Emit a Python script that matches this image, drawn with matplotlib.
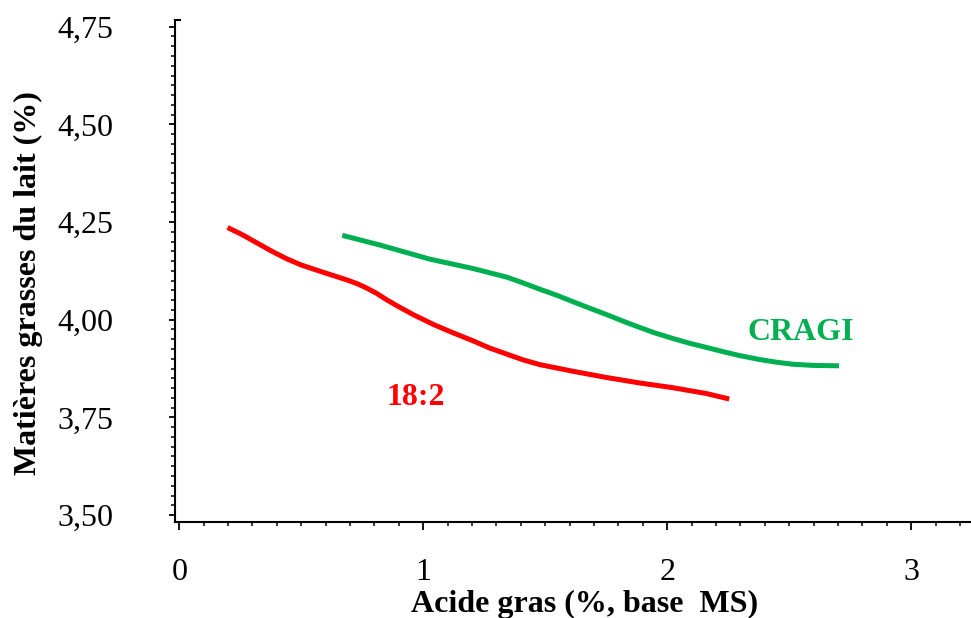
"""Milk fat content vs dietary fatty acid level: 18:2 and CRAGI response curves."""

from pathlib import Path

import matplotlib

matplotlib.use("Agg")
import matplotlib.pyplot as plt
from matplotlib.ticker import FixedLocator, MultipleLocator

# 18:2 curve (acide gras % MS -> matieres grasses %)
linoleic_x = [0.198, 0.26, 0.317, 0.38, 0.44, 0.50, 0.577, 0.686, 0.73, 0.768, 0.81,
              0.850, 0.90, 0.959, 1.041, 1.12, 1.204, 1.27, 1.342, 1.41, 1.478, 1.55,
              1.614, 1.752, 1.888, 2.023, 2.161, 2.254]
linoleic_y = [4.236, 4.217, 4.197, 4.175, 4.156, 4.140, 4.124, 4.102, 4.092, 4.081, 4.067,
              4.051, 4.033, 4.013, 3.988, 3.967, 3.946, 3.928, 3.912, 3.897, 3.885, 3.876,
              3.868, 3.852, 3.838, 3.826, 3.811, 3.797]

# CRAGI curve
cragi_x = [0.668, 0.823, 1.027, 1.204, 1.342, 1.41, 1.478, 1.55, 1.614, 1.68, 1.752,
           1.82, 1.888, 1.95, 2.023, 2.09, 2.161, 2.23, 2.298, 2.38, 2.45, 2.515, 2.60, 2.704]
cragi_y = [4.216, 4.191, 4.155, 4.131, 4.109, 4.094, 4.078, 4.062, 4.046, 4.030, 4.013,
           3.996, 3.980, 3.966, 3.952, 3.940, 3.929, 3.918, 3.908, 3.898, 3.891, 3.886,
           3.883, 3.882]

x_ticks = [0, 1, 2, 3]
y_ticks = [3.50, 3.75, 4.00, 4.25, 4.50, 4.75]
y_tick_labels = ["3,50", "3,75", "4,00", "4,25", "4,50", "4,75"]

RED = "#ff0000"
GREEN = "#00b050"
SERIF = ["Liberation Serif", "DejaVu Serif"]
FS = 23


def build_figure():
    plt.rcParams["font.family"] = SERIF
    fig = plt.figure(figsize=(9.71, 6.18), dpi=100)
    ax = fig.add_axes([0.1802, 0.1558, 0.8198, 0.8118])

    ax.plot(linoleic_x, linoleic_y, color=RED, lw=3.6, solid_capstyle="butt",
            solid_joinstyle="round")
    ax.plot(cragi_x, cragi_y, color=GREEN, lw=3.6, solid_capstyle="butt",
            solid_joinstyle="round")

    ax.text(0.970, 3.80, "18:2", color=RED, fontsize=FS, fontweight="bold",
            ha="center", va="center")
    ax.text(2.548, 3.968, "CRAGI", color=GREEN, fontsize=FS, fontweight="bold",
            ha="center", va="center")

    ax.set_xlim(-0.0176, 3.245)
    ax.set_ylim(3.483, 4.767)

    ax.xaxis.set_major_locator(FixedLocator(x_ticks))
    ax.xaxis.set_minor_locator(MultipleLocator(0.1))
    ax.yaxis.set_major_locator(FixedLocator(y_ticks))
    ax.set_yticklabels(y_tick_labels)
    ax.yaxis.set_minor_locator(MultipleLocator(0.025))

    for side in ("top", "right"):
        ax.spines[side].set_visible(False)
    for side in ("left", "bottom"):
        ax.spines[side].set_linewidth(1.5)

    ax.tick_params(axis="x", which="major", direction="out", length=6, width=1.3,
                   labelsize=FS, pad=20)
    ax.tick_params(axis="y", which="major", direction="out", length=4.5, width=1.3,
                   labelsize=FS, pad=40)
    ax.tick_params(which="minor", direction="out", length=2.8, width=1.1)

    # small cap at the top of the y axis
    ax.plot([0, 0.006], [1, 1], transform=ax.transAxes, color="black", lw=1.5,
            clip_on=False)

    ax.set_xlabel("Acide gras (%, base  MS)", fontsize=FS, fontweight="bold")
    ax.xaxis.set_label_coords(0.514, -0.136)
    ax.set_ylabel("Matières grasses du lait (%)", fontsize=FS, fontweight="bold")
    ax.yaxis.set_label_coords(-0.166, 0.475)
    return fig


def main():
    fig = build_figure()
    fig.savefig(Path("out.png"), dpi=100)
    plt.close(fig)


if __name__ == "__main__":
    main()
